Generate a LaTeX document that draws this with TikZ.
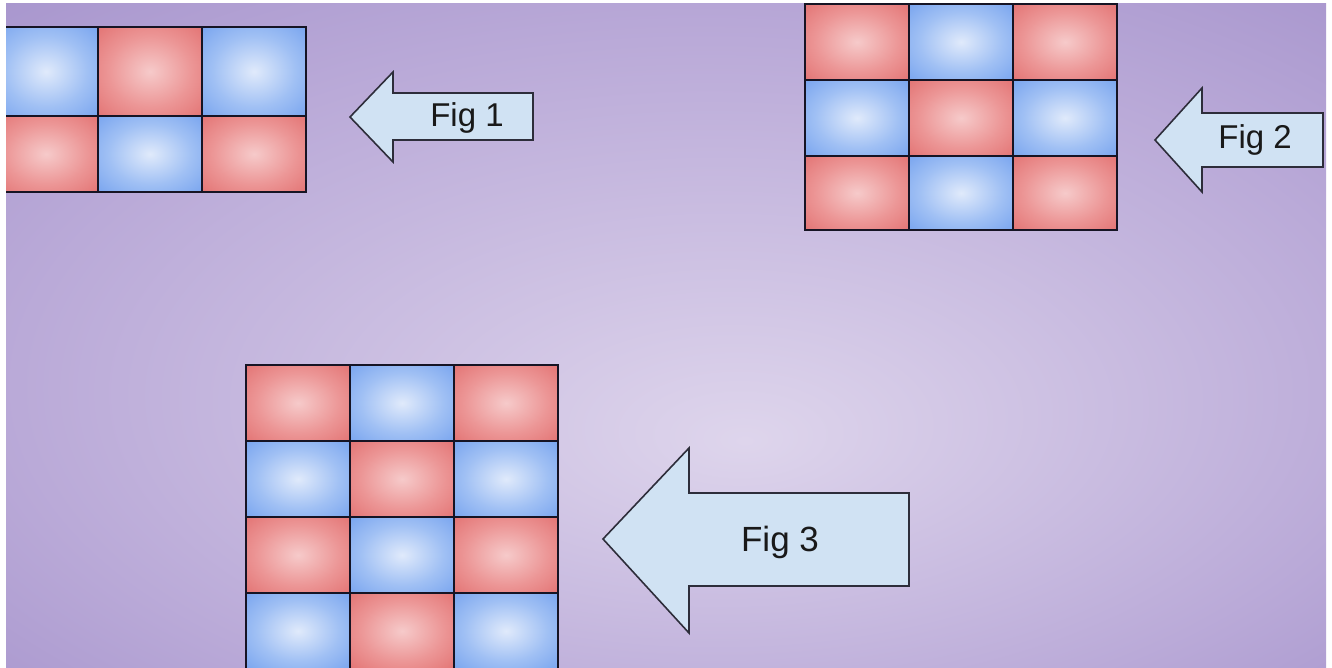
\documentclass[tikz,border=0pt]{standalone}
\usepackage{fontspec}
\setmainfont{Liberation Sans}
\definecolor{bgin}{RGB}{222,213,236}
\definecolor{bgmid}{RGB}{186,170,216}
\definecolor{bgout}{RGB}{150,130,195}
\definecolor{bluein}{RGB}{224,234,251}
\definecolor{bluemid}{RGB}{160,192,244}
\definecolor{blueout}{RGB}{100,150,236}
\definecolor{redin}{RGB}{246,202,202}
\definecolor{redmid}{RGB}{236,150,150}
\definecolor{redout}{RGB}{222,98,98}
\definecolor{arrowfill}{RGB}{208,226,243}
\definecolor{gridline}{RGB}{22,20,36}
\definecolor{arrowline}{RGB}{45,45,58}
\pgfdeclareradialshading{bgshade}{\pgfpoint{3bp}{-8bp}}{color(0bp)=(bgin); color(26bp)=(bgmid); color(50bp)=(bgout)}
\pgfdeclareradialshading{blueshade}{\pgfpoint{0bp}{0bp}}{color(0bp)=(bluein); color(20bp)=(bluemid); color(44bp)=(blueout)}
\pgfdeclareradialshading{redshade}{\pgfpoint{0bp}{0bp}}{color(0bp)=(redin); color(20bp)=(redmid); color(44bp)=(redout)}
\begin{document}
\begin{tikzpicture}[x=1pt,y=-1pt,
  cell/.style={rectangle, draw=gridline, line width=2.4pt, minimum width=104pt, minimum height=76pt, inner sep=0pt, outer sep=0pt},
  bcell/.style={cell, shading=blueshade},
  rcell/.style={cell, shading=redshade},
  arrowshape/.style={draw=arrowline, fill=arrowfill, line width=1.6pt, line join=miter},
  smalllabel/.style={anchor=base, inner sep=0pt, font=\fontsize{33}{33}\selectfont, text=black!90},
  biglabel/.style={anchor=base, inner sep=0pt, font=\fontsize{35}{35}\selectfont, text=black!90}]
\useasboundingbox (0,0) rectangle (1332,667);
\fill[white] (0,0) rectangle (1332,667);
\shade[shading=bgshade] (6,3) rectangle (1326,667);
\begin{scope}
\clip (6,3) rectangle (1326,667);
% Fig 1 grid
\node[bcell, minimum height=89pt] (a11) at (46,71.5) {};
\node[rcell, minimum height=89pt] (a12) at (150,71.5) {};
\node[bcell, minimum height=89pt] (a13) at (254,71.5) {};
\node[rcell] (a21) at (46,154) {};
\node[bcell] (a22) at (150,154) {};
\node[rcell] (a23) at (254,154) {};
% Fig 2 grid
\node[rcell] (b11) at (857,42) {};
\node[bcell] (b12) at (961,42) {};
\node[rcell] (b13) at (1065,42) {};
\node[bcell] (b21) at (857,118) {};
\node[rcell] (b22) at (961,118) {};
\node[bcell] (b23) at (1065,118) {};
\node[rcell, minimum height=74pt] (b31) at (857,193) {};
\node[bcell, minimum height=74pt] (b32) at (961,193) {};
\node[rcell, minimum height=74pt] (b33) at (1065,193) {};
% Fig 3 grid
\node[rcell] (c11) at (298,403) {};
\node[bcell] (c12) at (402,403) {};
\node[rcell] (c13) at (506,403) {};
\node[bcell] (c21) at (298,479) {};
\node[rcell] (c22) at (402,479) {};
\node[bcell] (c23) at (506,479) {};
\node[rcell] (c31) at (298,555) {};
\node[bcell] (c32) at (402,555) {};
\node[rcell] (c33) at (506,555) {};
\node[bcell] (c41) at (298,631) {};
\node[rcell] (c42) at (402,631) {};
\node[bcell] (c43) at (506,631) {};
\end{scope}
% Arrows
\draw[arrowshape] (350,117) -- (393,72) -- (393,93) -- (533,93) -- (533,140) -- (393,140) -- (393,162) -- cycle;
\node[smalllabel] (l1) at (467,126) {Fig 1};
\draw[arrowshape] (1155,140) -- (1202,88) -- (1202,113) -- (1323,113) -- (1323,167) -- (1202,167) -- (1202,192) -- cycle;
\node[smalllabel] (l2) at (1255,148) {Fig 2};
\draw[arrowshape] (603,539) -- (689,448) -- (689,493) -- (909,493) -- (909,586) -- (689,586) -- (689,633) -- cycle;
\node[biglabel] (l3) at (780,551) {Fig 3};
\end{tikzpicture}
\end{document}
